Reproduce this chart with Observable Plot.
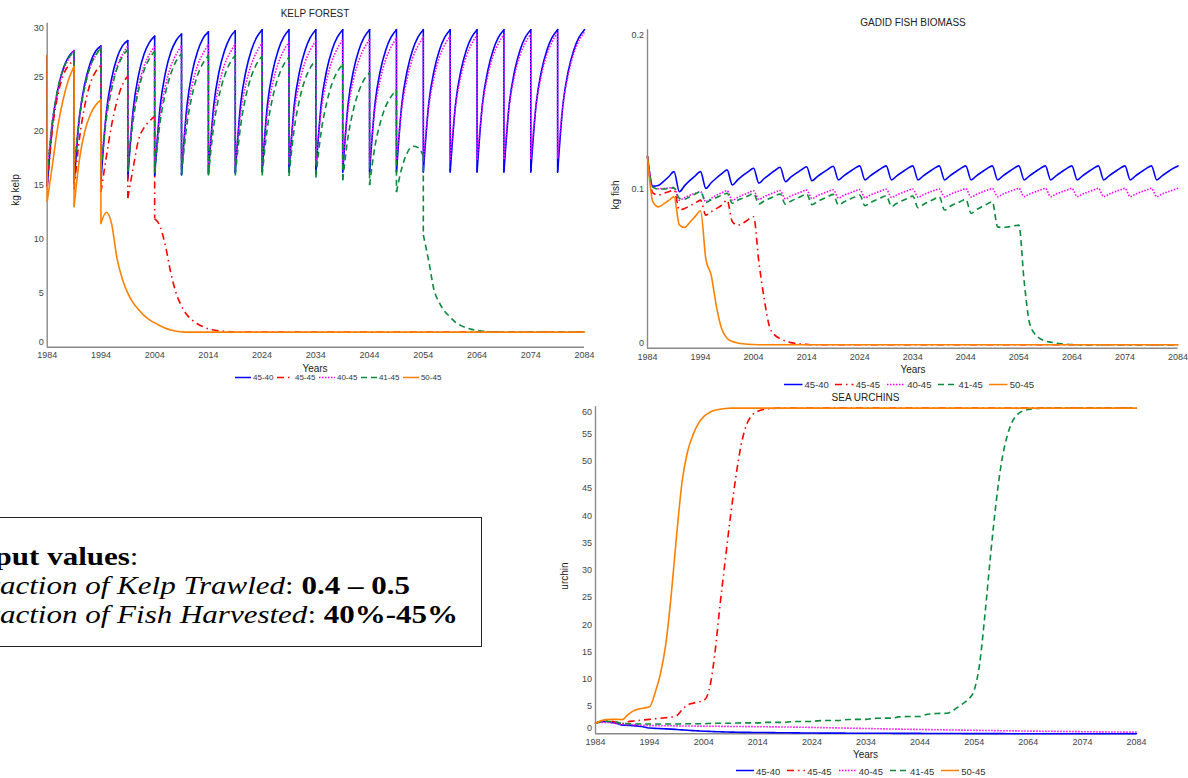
<!DOCTYPE html>
<html><head><meta charset="utf-8">
<script src="https://cdn.jsdelivr.net/npm/d3@7"></script>
<script src="https://cdn.jsdelivr.net/npm/@observablehq/plot@0.6"></script>
<style>
html,body{margin:0;padding:0;background:#fff;}
#page{position:relative;width:1188px;height:778px;overflow:hidden;font-family:"Liberation Sans",Arial,sans-serif;color:#222;}
.t{position:absolute;white-space:nowrap;transform:translate(-50%,-50%);font-size:10px;color:#222;}
.yl{position:absolute;white-space:nowrap;transform:translate(-50%,-50%) rotate(-90deg);font-size:10px;color:#222;}
.legend{position:absolute;display:flex;align-items:center;white-space:nowrap;transform:translateY(-50%);color:#333;}
.box{position:absolute;left:-60px;top:517px;width:542px;height:130px;border:1px solid #222;box-sizing:border-box;}
.boxtext{position:absolute;left:-31px;top:541.5px;font-family:"Liberation Serif","Times New Roman",serif;font-size:25px;line-height:29.4px;transform:scaleX(1.24);transform-origin:0 0;white-space:nowrap;color:#000;}
.boxtext .l1{margin-left:-3px;}
</style></head>
<body><div id="page"></div>
<script>
// ---------- categories / ticks ----------
const seriesNames = ["45-40", "45-45", "40-45", "41-45", "50-45"];
const xTicks = [1984, 1994, 2004, 2014, 2024, 2034, 2044, 2054, 2064, 2074, 2084];
const dropYears = [1984,1989,1994,1999,2004,2009,2014,2019,2024,2029,2034,2039,2044,2049,2054,2059,2064,2069,2074,2079];
const years = d3.range(1984, 2085);
const kelpTicks = [0, 5, 10, 15, 20, 25, 30];
const fishTicks = [0, 0.1, 0.2];
const urchinTicks = [0, 5, 10, 15, 20, 25, 30, 35, 40, 45, 50, 55, 60];

// ---------- KELP (yearly values 1984..2084, plus value right after each trawl) ----------
const kelp_45_40 = [27.0,
 20.8,23.9,25.8,26.9,27.45,
 21.3,24.4,26.3,27.4,27.9,
 21.7,24.9,26.8,27.9,28.4,
 22.0,25.2,27.1,28.2,28.8,
 22.2,25.4,27.3,28.4,29.0,
 22.3,25.5,27.4,28.6,29.2,
 22.4,25.55,27.45,28.65,29.3,
 22.5,25.6,27.5,28.7,29.4,
 22.5,25.6,27.5,28.7,29.4,
 22.5,25.6,27.5,28.7,29.4,
 22.5,25.6,27.5,28.7,29.4,
 22.5,25.6,27.5,28.7,29.4,
 22.5,25.6,27.5,28.7,29.4,
 22.5,25.6,27.5,28.7,29.4,
 22.5,25.6,27.5,28.7,29.4,
 22.5,25.6,27.5,28.7,29.4,
 22.5,25.6,27.5,28.7,29.4,
 22.5,25.6,27.5,28.7,29.4,
 22.5,25.6,27.5,28.7,29.4,
 22.5,25.6,27.5,28.7,29.4];
const kelpDrop_45_40 = [14.85,15.1,15.35,15.6,15.85,15.95,16.05,16.1,16.2,16.2,16.2,16.2,16.2,16.2,16.2,16.2,16.2,16.2,16.2,16.2];

const kelp_45_45 = [27.0,
 20.3,23.4,25.2,26.1,26.5,
 19.3,22.4,24.4,25.5,26.1,
 17.6,20.6,22.8,24.3,25.1,
 16.6,19.2,20.3,20.9,21.4,
 11.2,9.4,6.9,5.0,3.8,
 3.0,2.5,2.15,1.9,1.7,
 1.6,1.52,1.47,1.43,1.4,
 1.4,1.4,1.4,1.4,1.4, 1.4,1.4,1.4,1.4,1.4,
 1.4,1.4,1.4,1.4,1.4, 1.4,1.4,1.4,1.4,1.4,
 1.4,1.4,1.4,1.4,1.4, 1.4,1.4,1.4,1.4,1.4,
 1.4,1.4,1.4,1.4,1.4, 1.4,1.4,1.4,1.4,1.4,
 1.4,1.4,1.4,1.4,1.4, 1.4,1.4,1.4,1.4,1.4,
 1.4,1.4,1.4,1.4,1.4, 1.4,1.4,1.4,1.4,1.4,
 1.4,1.4,1.4,1.4,1.4];
const kelpDrop_45_45 = [14.85,14.6,14.35,13.8,11.9,null,null,null,null,null,null,null,null,null,null,null,null,null,null,null];

const kelp_40_45 = [27.0,
 21.1,23.8,25.6,26.7,27.5,
 21.4,24.1,25.9,27.0,27.8,
 21.5,24.2,26.0,27.1,27.9,
 21.5,24.2,26.0,27.1,27.85,
 21.5,24.2,26.0,27.1,27.9,
 21.6,24.3,26.1,27.2,28.0,
 21.6,24.3,26.15,27.25,28.05,
 21.7,24.4,26.2,27.35,28.15,
 21.8,24.5,26.3,27.45,28.25,
 21.85,24.6,26.4,27.55,28.35,
 21.9,24.7,26.5,27.65,28.45,
 22.0,24.75,26.55,27.7,28.5,
 22.05,24.8,26.65,27.8,28.6,
 22.1,24.9,26.75,27.9,28.7,
 22.2,25.0,26.85,28.0,28.8,
 22.3,25.1,26.95,28.1,28.9,
 22.3,25.15,27.0,28.15,28.95,
 22.35,25.2,27.05,28.2,29.0,
 22.4,25.25,27.1,28.3,29.1,
 22.5,25.3,27.2,28.4,29.2];
const kelpDrop_40_45 = [16.2,16.5,16.7,16.75,16.7,16.75,16.8,16.85,16.9,16.95,17.0,17.05,17.1,17.15,17.2,17.3,17.35,17.4,17.4,17.45];

const kelp_41_45 = [27.0,
 21.0,24.0,25.8,26.8,27.4,
 21.2,24.1,26.0,27.0,27.7,
 21.1,23.9,25.8,26.9,27.55,
 21.0,23.8,25.6,26.7,27.4,
 20.8,23.5,25.3,26.5,27.15,
 20.6,23.4,25.2,26.3,27.0,
 20.5,23.3,25.1,26.3,27.0,
 20.5,23.3,25.1,26.25,26.95,
 20.4,23.2,25.0,26.15,26.85,
 20.3,23.0,24.8,25.9,26.6,
 20.0,22.6,24.4,25.5,26.2,
 19.5,22.0,23.7,24.8,25.4,
 18.6,20.8,22.3,23.2,23.8,
 16.6,18.0,18.6,18.5,17.7,
 8.0,5.3,4.1,3.3,2.8,
 2.3,2.0,1.8,1.65,1.55,
 1.48,1.43,1.4,1.4,1.4,
 1.4,1.4,1.4,1.4,1.4, 1.4,1.4,1.4,1.4,1.4,
 1.4,1.4,1.4,1.4,1.4];
const kelpDrop_41_45 = [15.9,16.2,16.35,16.25,16.15,16.0,15.9,15.9,15.9,15.85,15.7,15.45,15.0,14.35,10.4,null,null,null,null,null];

const kelp_50_45 = [27.0,
 17.0,20.5,23.0,24.8,26.0,
 17.4,20.0,21.5,22.4,22.9,
 12.5,11.4,8.2,6.3,5.0,
 4.1,3.5,2.95,2.55,2.25,
 2.0,1.75,1.6,1.48,1.43,
 1.4,1.4,1.4,1.4,1.4, 1.4,1.4,1.4,1.4,1.4,
 1.4,1.4,1.4,1.4,1.4, 1.4,1.4,1.4,1.4,1.4,
 1.4,1.4,1.4,1.4,1.4, 1.4,1.4,1.4,1.4,1.4,
 1.4,1.4,1.4,1.4,1.4, 1.4,1.4,1.4,1.4,1.4,
 1.4,1.4,1.4,1.4,1.4, 1.4,1.4,1.4,1.4,1.4,
 1.4,1.4,1.4,1.4,1.4, 1.4,1.4,1.4,1.4,1.4,
 1.4,1.4,1.4,1.4,1.4, 1.4,1.4,1.4,1.4,1.4,
 1.4,1.4,1.4,1.4,1.4];
const kelpDrop_50_45 = [13.5,13.0,11.45,null,null,null,null,null,null,null,null,null,null,null,null,null,null,null,null,null];

// ---------- GADID FISH BIOMASS (yearly 1984..2084) ----------
const fish_45_40 = [0.1204,
 0.1018,0.1022,0.1047,0.1077,0.1109,
 0.0983,0.1021,0.1054,0.1083,0.1109,
 0.1004,0.1039,0.1069,0.1096,0.112,
 0.1025,0.1057,0.1085,0.1109,0.113,
 0.1036,0.1066,0.1091,0.1116,0.1137,
 0.1046,0.1074,0.1098,0.112,0.114,
 0.1052,0.1078,0.1101,0.1123,0.1143,
 0.1057,0.1083,0.1106,0.1128,0.1145,
 0.1057,0.1083,0.1106,0.1128,0.1145,
 0.1057,0.1083,0.1106,0.1128,0.1145,
 0.1057,0.1083,0.1106,0.1128,0.1145,
 0.1057,0.1083,0.1106,0.1128,0.1145,
 0.1057,0.1083,0.1106,0.1128,0.1145,
 0.1057,0.1083,0.1106,0.1128,0.1145,
 0.1057,0.1083,0.1106,0.1128,0.1145,
 0.1057,0.1083,0.1106,0.1128,0.1145,
 0.1057,0.1083,0.1106,0.1128,0.1145,
 0.1057,0.1083,0.1106,0.1128,0.1145,
 0.1057,0.1083,0.1106,0.1128,0.1145,
 0.1057,0.1083,0.1106,0.1128,0.1145];
const fish_45_45 = [0.1204,
 0.0975,0.0962,0.0972,0.0983,0.0994,
 0.0868,0.0878,0.0895,0.0912,0.093,
 0.0836,0.0857,0.0877,0.0898,0.093,
 0.0794,0.0773,0.0785,0.0808,0.0825,
 0.054,0.031,0.0135,0.0082,0.006,
 0.0045,0.0035,0.003,0.0026,0.0024,
 0.0022,0.0022,0.0022,0.0022,0.0022, 0.0022,0.0022,0.0022,0.0022,0.0022,
 0.0022,0.0022,0.0022,0.0022,0.0022, 0.0022,0.0022,0.0022,0.0022,0.0022,
 0.0022,0.0022,0.0022,0.0022,0.0022, 0.0022,0.0022,0.0022,0.0022,0.0022,
 0.0022,0.0022,0.0022,0.0022,0.0022, 0.0022,0.0022,0.0022,0.0022,0.0022,
 0.0022,0.0022,0.0022,0.0022,0.0022, 0.0022,0.0022,0.0022,0.0022,0.0022,
 0.0022,0.0022,0.0022,0.0022,0.0022, 0.0022,0.0022,0.0022,0.0022,0.0022,
 0.0022,0.0022,0.0022,0.0022,0.0022, 0.0022,0.0022,0.0022,0.0022,0.0022];
const fish_40_45 = [0.1204,
 0.1012,0.1002,0.1003,0.1006,0.101,
 0.093,0.0946,0.0961,0.0973,0.0983,
 0.092,0.0941,0.0961,0.0976,0.0989,
 0.093,0.0947,0.0963,0.0976,0.0988,
 0.0935,0.0952,0.0966,0.0979,0.099,
 0.0938,0.0955,0.0969,0.0982,0.0993,
 0.094,0.0957,0.0971,0.0984,0.0995,
 0.0943,0.096,0.0973,0.0986,0.0997,
 0.0945,0.0962,0.0975,0.0988,0.0998,
 0.0947,0.0963,0.0977,0.0989,0.1,
 0.0948,0.0964,0.0978,0.099,0.1,
 0.095,0.0966,0.0979,0.0991,0.1002,
 0.095,0.0966,0.098,0.0992,0.1003,
 0.0952,0.0968,0.0981,0.0993,0.1004,
 0.0952,0.0968,0.0981,0.0993,0.1004,
 0.0952,0.0968,0.0981,0.0993,0.1004,
 0.0952,0.0968,0.0981,0.0993,0.1004,
 0.0952,0.0968,0.0981,0.0993,0.1004,
 0.0952,0.0968,0.0981,0.0993,0.1004,
 0.0952,0.0968,0.0981,0.0993,0.1004];
const fish_41_45 = [0.1204,
 0.1012,0.1,0.1,0.1003,0.1007,
 0.0942,0.0936,0.0952,0.0968,0.0983,
 0.0916,0.0932,0.0946,0.096,0.0973,
 0.091,0.0929,0.0943,0.0957,0.0972,
 0.0906,0.0925,0.094,0.0955,0.0969,
 0.0904,0.0923,0.0939,0.0954,0.0969,
 0.0902,0.0921,0.0937,0.0952,0.0966,
 0.0899,0.0918,0.0934,0.0949,0.0962,
 0.0895,0.0914,0.093,0.0945,0.0958,
 0.089,0.091,0.0926,0.0941,0.0955,
 0.0882,0.0903,0.092,0.0936,0.0951,
 0.0868,0.089,0.0907,0.0922,0.0935,
 0.0847,0.087,0.0889,0.0905,0.092,
 0.0762,0.0758,0.0762,0.0768,0.0773,
 0.042,0.016,0.009,0.006,0.0045,
 0.0038,0.0032,0.0028,0.0025,0.0023,
 0.0022,0.0022,0.0022,0.0022,0.0022, 0.0022,0.0022,0.0022,0.0022,0.0022,
 0.0022,0.0022,0.0022,0.0022,0.0022, 0.0022,0.0022,0.0022,0.0022,0.0022];
const fish_50_45 = [0.1204,
 0.092,0.0888,0.0905,0.0928,0.0951,
 0.0775,0.0758,0.0792,0.0828,0.0863,
 0.056,0.046,0.026,0.012,0.0062,
 0.0042,0.0033,0.0028,0.0025,0.0023,
 0.0022,0.0022,0.0022,0.0022,0.0022, 0.0022,0.0022,0.0022,0.0022,0.0022,
 0.0022,0.0022,0.0022,0.0022,0.0022, 0.0022,0.0022,0.0022,0.0022,0.0022,
 0.0022,0.0022,0.0022,0.0022,0.0022, 0.0022,0.0022,0.0022,0.0022,0.0022,
 0.0022,0.0022,0.0022,0.0022,0.0022, 0.0022,0.0022,0.0022,0.0022,0.0022,
 0.0022,0.0022,0.0022,0.0022,0.0022, 0.0022,0.0022,0.0022,0.0022,0.0022,
 0.0022,0.0022,0.0022,0.0022,0.0022, 0.0022,0.0022,0.0022,0.0022,0.0022,
 0.0022,0.0022,0.0022,0.0022,0.0022, 0.0022,0.0022,0.0022,0.0022,0.0022,
 0.0022,0.0022,0.0022,0.0022,0.0022, 0.0022,0.0022,0.0022,0.0022,0.0022];

// ---------- SEA URCHINS (yearly 1984..2084) ----------
const urchin_45_40 = [1.95,
 2.2,2.25,2.1,1.9,1.6,
 1.55,1.5,1.4,1.25,1.05,
 1.0,0.95,0.9,0.85,0.79,
 0.72,0.65,0.59,0.53,0.48,
 0.44,0.4,0.37,0.34,0.31,
 0.29,0.27,0.26,0.25,0.24,
 0.23,0.22,0.21,0.2,0.19,
 0.18,0.17,0.16,0.15,0.14,
 0.135,0.13,0.125,0.12,0.12,
 0.115,0.11,0.11,0.105,0.1,
 0.1,0.095,0.09,0.09,0.085,
 0.08,0.08,0.075,0.07,0.07,
 0.065,0.06,0.06,0.055,0.05,
 0.05,0.045,0.04,0.04,0.035,
 0.03,0.03,0.028,0.026,0.024,
 0.022,0.02,0.018,0.016,0.015,
 0.014,0.013,0.012,0.011,0.01,
 0.009,0.008,0.007,0.006,0.005,
 0.005,0.004,0.004,0.003,0.003,
 0.002,0.002,0.001,0.001,0.0];
const urchin_45_45 = [1.95,
 2.3,2.4,2.3,2.1,1.9,
 2.2,2.35,2.45,2.55,2.65,
 2.75,2.85,2.95,3.05,3.3,
 4.4,5.3,5.6,5.85,6.1,
 8.0,14.2,23.5,32.0,40.3,
 47.5,53.4,56.9,58.5,59.2,
 59.5,59.65,59.7,59.75,59.75,
 59.75,59.75,59.75,59.75,59.75, 59.75,59.75,59.75,59.75,59.75,
 59.75,59.75,59.75,59.75,59.75, 59.75,59.75,59.75,59.75,59.75,
 59.75,59.75,59.75,59.75,59.75, 59.75,59.75,59.75,59.75,59.75,
 59.75,59.75,59.75,59.75,59.75, 59.75,59.75,59.75,59.75,59.75,
 59.75,59.75,59.75,59.75,59.75, 59.75,59.75,59.75,59.75,59.75,
 59.75,59.75,59.75,59.75,59.75, 59.75,59.75,59.75,59.75,59.75,
 59.75,59.75,59.75,59.75,59.75];
const urchin_40_45 = [1.95,
 2.1,2.1,2.0,1.9,1.7,
 1.68,1.65,1.6,1.55,1.5,
 1.5,1.49,1.48,1.47,1.45,
 1.44,1.43,1.42,1.41,1.4,
 1.39,1.38,1.37,1.36,1.35,
 1.34,1.33,1.32,1.31,1.3,
 1.29,1.28,1.27,1.26,1.25,
 1.24,1.22,1.21,1.19,1.18,
 1.15,1.13,1.11,1.09,1.07,
 1.05,1.03,1.01,0.99,0.97,
 0.95,0.93,0.91,0.89,0.87,
 0.86,0.84,0.82,0.81,0.79,
 0.77,0.76,0.74,0.73,0.71,
 0.7,0.68,0.67,0.65,0.64,
 0.62,0.61,0.6,0.58,0.57,
 0.56,0.54,0.53,0.52,0.5,
 0.49,0.48,0.47,0.46,0.45,
 0.44,0.42,0.41,0.4,0.39,
 0.38,0.37,0.36,0.35,0.34,
 0.33,0.32,0.31,0.31,0.3];
const urchin_41_45 = [1.95,
 2.2,2.3,2.2,2.1,1.9,
 1.85,1.8,1.8,1.8,1.8,
 1.8,1.8,1.8,1.8,1.8,
 1.82,1.84,1.85,1.85,1.85,
 1.9,1.92,1.93,1.93,1.93,
 1.97,2.0,2.0,2.0,2.0,
 2.08,2.1,2.1,2.1,2.1,
 2.2,2.25,2.25,2.25,2.25,
 2.38,2.42,2.44,2.44,2.44,
 2.58,2.62,2.64,2.64,2.64,
 2.8,2.85,2.87,2.88,2.88,
 3.1,3.15,3.17,3.18,3.18,
 3.5,3.65,3.72,3.75,3.76,
 4.2,4.9,5.6,6.4,8.0,
 12.8,22.0,32.5,42.0,49.5,
 54.3,57.2,58.6,59.25,59.5,
 59.65,59.7,59.75,59.75,59.75,
 59.75,59.75,59.75,59.75,59.75, 59.75,59.75,59.75,59.75,59.75,
 59.75,59.75,59.75,59.75,59.75];
const urchin_50_45 = [1.95,
 2.4,2.6,2.65,2.65,2.6,
 3.5,4.2,4.55,4.75,4.95,
 7.5,11.0,16.5,25.5,36.5,
 46.2,51.7,54.8,56.9,58.2,
 58.9,59.35,59.55,59.7,59.75,
 59.75,59.75,59.75,59.75,59.75, 59.75,59.75,59.75,59.75,59.75,
 59.75,59.75,59.75,59.75,59.75, 59.75,59.75,59.75,59.75,59.75,
 59.75,59.75,59.75,59.75,59.75, 59.75,59.75,59.75,59.75,59.75,
 59.75,59.75,59.75,59.75,59.75, 59.75,59.75,59.75,59.75,59.75,
 59.75,59.75,59.75,59.75,59.75, 59.75,59.75,59.75,59.75,59.75,
 59.75,59.75,59.75,59.75,59.75, 59.75,59.75,59.75,59.75,59.75,
 59.75,59.75,59.75,59.75,59.75, 59.75,59.75,59.75,59.75,59.75,
 59.75,59.75,59.75,59.75,59.75];

// ---------- styles ----------
const colors = ["#0000ff", "#ff0000", "#ff00ff", "#0a8a3c", "#ff8000"];
const dashes = [null, "7,4,1.5,4", "1.5,1.5", "6,4", null];
const axisGray = "#8a8a8a";

const page = document.getElementById("page");

function lineOpts(i, extra) {
  const o = {stroke: colors[i], strokeWidth: 1.6, curve: "monotone-x", ...extra};
  if (dashes[i]) { o.strokeDasharray = dashes[i]; o.strokeLinecap = "butt"; }
  return o;
}

function kelpMarks(vals, drops, i) {
  const pts = [], rules = [];
  let seg = 0;
  years.forEach((yr, j) => {
    pts.push({year: yr, v: vals[j], seg});
    const k = dropYears.indexOf(yr);
    if (k >= 0 && drops[k] != null) {
      rules.push({year: yr, top: vals[j], bottom: drops[k]});
      seg++;
      pts.push({year: yr, v: drops[k], seg});
    }
  });
  const r = {stroke: colors[i], strokeWidth: 1.6};
  if (dashes[i]) { r.strokeDasharray = dashes[i]; r.strokeLinecap = "butt"; }
  return [
    Plot.line(pts, lineOpts(i, {x: "year", y: "v", z: "seg"})),
    Plot.ruleX(rules, {x: "year", y1: "top", y2: "bottom", ...r})
  ];
}

function yearlyMarks(vals, i) {
  const pts = years.map((yr, j) => ({year: yr, v: vals[j]}));
  return [Plot.line(pts, lineOpts(i, {x: "year", y: "v"}))];
}

function chart({left, top, width, height, mL, mR, mT, mB, ticks, fmt, xPad, marks}) {
  const lo = ticks[0], hi = ticks[ticks.length - 1];
  const inner = ticks.slice(1, -1);
  const ax = {tickSize: 0, tickPadding: 3.5, tickFormat: fmt, label: null};
  const svg = Plot.plot({
    width, height, marginLeft: mL, marginRight: mR, marginTop: mT, marginBottom: mB,
    x: {domain: [1984, 2084]},
    y: {domain: [lo, hi]},
    style: {fontFamily: "'Liberation Sans', Arial, sans-serif", fontSize: "9px", color: "#444", background: "transparent", overflow: "visible"},
    marks: [
      Plot.ruleY([lo], {stroke: axisGray, strokeWidth: 1.4}),
      Plot.ruleX([1984], {stroke: axisGray, strokeWidth: 1.4}),
      ...marks,
      Plot.axisX(xTicks, {tickSize: 0, tickPadding: xPad, tickFormat: d => String(d), label: null}),
      Plot.axisY(inner, ax),
      Plot.axisY([lo], {...ax, dy: -5.5}),
      Plot.axisY([hi], {...ax, dy: 5})
    ]
  });
  svg.style.position = "absolute";
  svg.style.left = left + "px";
  svg.style.top = top + "px";
  page.appendChild(svg);
}

function addText(cls, txt, x, y) {
  const d = document.createElement("div");
  d.className = cls; d.textContent = txt;
  d.style.left = x + "px"; d.style.top = y + "px";
  page.appendChild(d);
}

function legend(left, cy, fontSize, swW, gap, after) {
  const div = document.createElement("div");
  div.className = "legend";
  div.style.left = left + "px"; div.style.top = cy + "px"; div.style.fontSize = fontSize + "px";
  seriesNames.forEach((n, i) => {
    const item = document.createElement("span");
    item.style.display = "inline-flex"; item.style.alignItems = "center"; item.style.marginRight = after + "px";
    const da = dashes[i] ? `stroke-dasharray="${dashes[i]}"` : "";
    item.innerHTML = `<svg width="${swW}" height="6" style="margin-right:${gap}px;display:block"><line x1="0" x2="${swW}" y1="3" y2="3" stroke="${colors[i]}" stroke-width="1.6" ${da}/></svg><span>${n}</span>`;
    div.appendChild(item);
  });
  page.appendChild(div);
}

// ---------- KELP FOREST ----------
chart({left: 0, top: 0, width: 600, height: 380, mL: 46.7, mR: 16, mT: 22.7, mB: 33.3,
  ticks: kelpTicks, fmt: d => String(d), xPad: 4,
  marks: [
    ...kelpMarks(kelp_45_40, kelpDrop_45_40, 0),
    ...kelpMarks(kelp_45_45, kelpDrop_45_45, 1),
    ...kelpMarks(kelp_40_45, kelpDrop_40_45, 2),
    ...kelpMarks(kelp_41_45, kelpDrop_41_45, 3),
    ...kelpMarks(kelp_50_45, kelpDrop_50_45, 4)
  ]});
addText("t", "KELP FOREST", 315, 13);
addText("t", "Years", 315, 368);
addText("yl", "kg kelp", 15.4, 190);
legend(235, 377, 8, 16, 2, 3.5);

// ---------- GADID FISH BIOMASS ----------
chart({left: 600, top: 0, width: 588, height: 390, mL: 47, mR: 10.5, mT: 29.3, mB: 42.3,
  ticks: fishTicks, fmt: d => d === 0 ? "0" : d3.format(".1f")(d), xPad: 5.6,
  marks: [
    ...yearlyMarks(fish_45_40, 0),
    ...yearlyMarks(fish_45_45, 1),
    ...yearlyMarks(fish_40_45, 2),
    ...yearlyMarks(fish_41_45, 3),
    ...yearlyMarks(fish_50_45, 4)
  ]});
addText("t", "GADID FISH BIOMASS", 913, 21.7);
addText("t", "Years", 913, 369);
addText("yl", "kg fish", 615, 195);
legend(784, 384, 9.5, 18.5, 2, 6.5);

// ---------- SEA URCHINS ----------
chart({left: 550, top: 385, width: 638, height: 393, mL: 45, mR: 52, mT: 21.3, mB: 44.7,
  ticks: urchinTicks, fmt: d => String(d), xPad: 5,
  marks: [
    ...yearlyMarks(urchin_45_40, 0),
    ...yearlyMarks(urchin_45_45, 1),
    ...yearlyMarks(urchin_40_45, 2),
    ...yearlyMarks(urchin_41_45, 3),
    ...yearlyMarks(urchin_50_45, 4)
  ]});
addText("t", "SEA URCHINS", 865.5, 397.3);
addText("t", "Years", 865.5, 754);
addText("yl", "urchin", 563.5, 575.7);
legend(736, 770.7, 9.5, 18, 2, 7);

// ---------- input values box ----------
const box = document.createElement("div"); box.className = "box"; page.appendChild(box);
const bt = document.createElement("div"); bt.className = "boxtext";
bt.innerHTML = '<div class="l1"><b>Input values</b>:</div>' +
  '<div><i>Fraction of Kelp Trawled</i>: <b>0.4 – 0.5</b></div>' +
  '<div><i>Fraction of Fish Harvested</i>: <b>40%-45%</b></div>';
page.appendChild(bt);
</script>
</body></html>
